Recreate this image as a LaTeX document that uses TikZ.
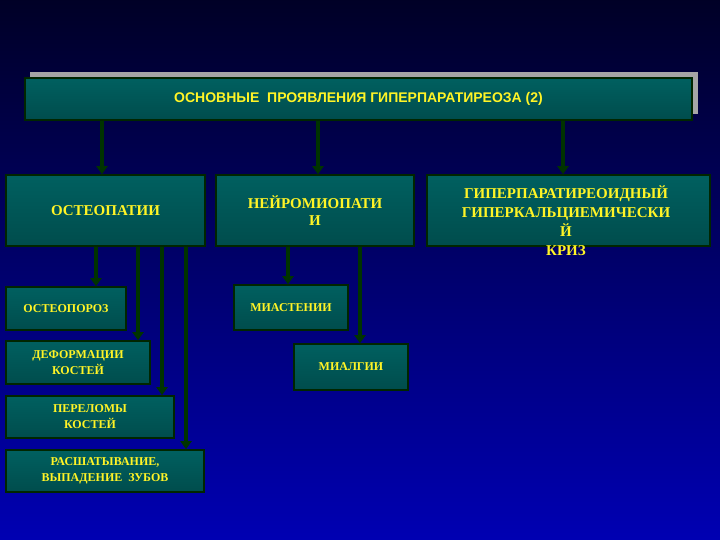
\documentclass[tikz,border=0pt]{standalone}
\usepackage{fontspec}
\setmainfont{Liberation Serif}
\newfontfamily\sansf{Liberation Sans}
\usetikzlibrary{arrows.meta}
\begin{document}
\begin{tikzpicture}[x=1pt,y=-1pt,
  box/.style={draw=black!85!green,line width=1.6pt,top color=teal!75!black,bottom color=teal!60!black,text=yellow!85!white,font=\bfseries,align=center,inner sep=0pt},
  arr/.style={draw=green!20!black,line width=3.5pt,-{Triangle[length=8pt,width=11pt]}}]
\shade[top color=blue!15!black,bottom color=blue!70!black] (0,0) rectangle (720,540);
\useasboundingbox (0,0) rectangle (720,540);
\fill[gray!70] (30,72) rectangle (698,114);
\node[box,minimum width=667pt,minimum height=42pt,font=\sansf\bfseries\fontsize{14}{16}\selectfont] (t) at (358.5,99) {ОСНОВНЫЕ\ \ ПРОЯВЛЕНИЯ ГИПЕРПАРАТИРЕОЗА (2)};
\node[box,minimum width=199pt,minimum height=71pt,font=\bfseries\fontsize{15}{17}\selectfont] (a) at (105.5,210.5) {ОСТЕОПАТИИ};
\node[box,minimum width=198pt,minimum height=71pt,font=\bfseries\fontsize{15}{17}\selectfont] (b) at (315,210.5) {НЕЙРОМИОПАТИ\\И};
\node[box,minimum width=283pt,minimum height=71pt] (c) at (568.5,210.5) {};
\node[text=yellow!85!white,font=\bfseries\fontsize{15}{19}\selectfont,align=center] (ct) at (566,221) {ГИПЕРПАРАТИРЕОИДНЫЙ\\ГИПЕРКАЛЬЦИЕМИЧЕСКИ\\Й\\КРИЗ};
\node[box,minimum width=120pt,minimum height=43pt,font=\bfseries\fontsize{12}{14}\selectfont] (a1) at (66,308.5) {ОСТЕОПОРОЗ};
\node[box,minimum width=144pt,minimum height=43pt,font=\bfseries\fontsize{12}{16}\selectfont] (a2) at (78,362.5) {ДЕФОРМАЦИИ\\КОСТЕЙ};
\node[box,minimum width=168pt,minimum height=42pt,font=\bfseries\fontsize{12}{16}\selectfont] (a3) at (90,417) {ПЕРЕЛОМЫ\\КОСТЕЙ};
\node[box,minimum width=198pt,minimum height=42pt,font=\bfseries\fontsize{12}{16}\selectfont] (a4) at (105,471) {РАСШАТЫВАНИЕ,\\ВЫПАДЕНИЕ\ \ ЗУБОВ};
\node[box,minimum width=114pt,minimum height=45pt,font=\bfseries\fontsize{12}{14}\selectfont] (b1) at (291,307.5) {МИАСТЕНИИ};
\node[box,minimum width=114pt,minimum height=46pt,font=\bfseries\fontsize{12}{14}\selectfont] (b2) at (351,367) {МИАЛГИИ};
\draw[arr] (t.south -| 102,0) -- (a.north -| 102,0);
\draw[arr] (t.south -| 318,0) -- (b.north -| 318,0);
\draw[arr] (t.south -| 563,0) -- (c.north -| 563,0);
\draw[arr] (a.south -| 96,0) -- (a1.north -| 96,0);
\draw[arr] (a.south -| 138,0) -- (a2.north -| 138,0);
\draw[arr] (a.south -| 162,0) -- (a3.north -| 162,0);
\draw[arr] (a.south -| 186,0) -- (a4.north -| 186,0);
\draw[arr] (b.south -| 288,0) -- (b1.north -| 288,0);
\draw[arr] (b.south -| 360,0) -- (b2.north -| 360,0);
\end{tikzpicture}
\end{document}
